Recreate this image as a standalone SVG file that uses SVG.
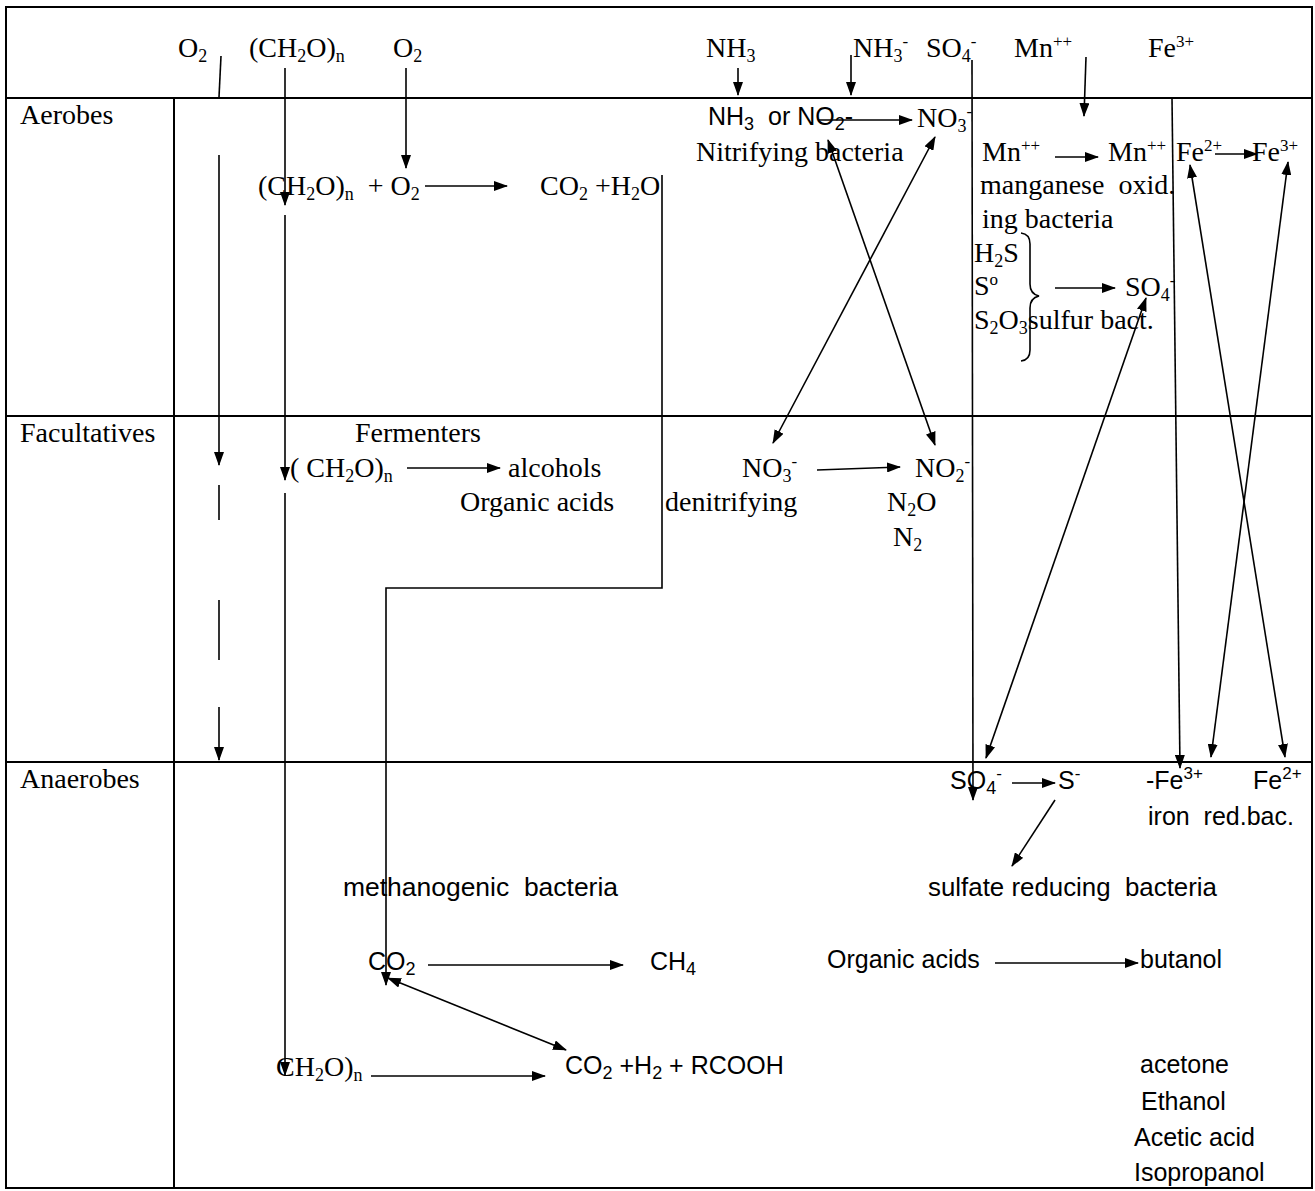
<svg xmlns="http://www.w3.org/2000/svg" width="1315" height="1191" viewBox="0 0 1315 1191">
<style>
.t{font-family:"Liberation Serif","Times New Roman",serif;font-size:28px;fill:#000;white-space:pre}
.s{font-family:"Liberation Sans",Arial,sans-serif;font-size:25px;fill:#000;white-space:pre}
.sub{font-size:18px}
.sup{font-size:17px}
.ln{stroke:#000;stroke-width:1.6;fill:none}
.ar{stroke:#000;stroke-width:1.6;fill:none;marker-end:url(#ah)}
.bi{stroke:#000;stroke-width:1.6;fill:none;marker-end:url(#ah);marker-start:url(#ah)}
.grid{stroke:#000;stroke-width:2;fill:none}
</style>
<defs>
<marker id="ah" markerUnits="userSpaceOnUse" markerWidth="14" markerHeight="10" refX="13" refY="5" orient="auto-start-reverse" viewBox="0 0 14 10">
<path d="M0,0 L14,5 L0,10 z" fill="#000"/>
</marker>
</defs>
<rect width="1315" height="1191" fill="#fff"/>
<g id="grid">
<rect class="grid" x="6" y="7" width="1306" height="1181"/>
<line class="grid" x1="6" y1="98" x2="1312" y2="98"/>
<line class="grid" x1="6" y1="416" x2="1312" y2="416"/>
<line class="grid" x1="6" y1="762" x2="1312" y2="762"/>
<line class="grid" x1="174" y1="98" x2="174" y2="1188"/>
</g>
<g id="row-labels">
<text class="t" x="20" y="124">Aerobes</text>
<text class="t" x="20" y="442">Facultatives</text>
<text class="t" x="20" y="788">Anaerobes</text>
</g>
<g id="inputs">
<text class="t" x="178" y="57">O<tspan class="sub" dy="5">2</tspan></text>
<text class="t" x="249" y="57">(CH<tspan class="sub" dy="5">2</tspan><tspan dy="-5">O)</tspan><tspan class="sub" dy="5">n</tspan></text>
<text class="t" x="393" y="57">O<tspan class="sub" dy="5">2</tspan></text>
<text class="t" x="706" y="57">NH<tspan class="sub" dy="5">3</tspan></text>
<text class="t" x="853" y="57">NH<tspan class="sub" dy="5">3</tspan><tspan class="sup" dy="-15">-</tspan></text>
<text class="t" x="926" y="57">SO<tspan class="sub" dy="5">4</tspan><tspan class="sup" dy="-15">-</tspan></text>
<text class="t" x="1014" y="57">Mn<tspan class="sup" dy="-10">++</tspan></text>
<text class="t" x="1148" y="57">Fe<tspan class="sup" dy="-10">3+</tspan></text>
</g>
<g id="aerobic-respiration">
<text class="t" x="258" y="195">(CH<tspan class="sub" dy="5">2</tspan><tspan dy="-5">O)</tspan><tspan class="sub" dy="5">n</tspan><tspan dy="-5">  + O</tspan><tspan class="sub" dy="5">2</tspan></text>
<text class="t" x="540" y="195">CO<tspan class="sub" dy="5">2</tspan><tspan dy="-5"> +H</tspan><tspan class="sub" dy="5">2</tspan><tspan dy="-5">O</tspan></text>
</g>
<g id="nitrifying">
<text class="s" x="708" y="125">NH<tspan class="sub" dy="5">3</tspan><tspan dy="-5">  or NO</tspan><tspan class="sub" dy="5">2</tspan><tspan dy="-5">-</tspan></text>
<text class="t" x="917" y="127">NO<tspan class="sub" dy="5">3</tspan><tspan class="sup" dy="-15">-</tspan></text>
<text class="t" x="696" y="161">Nitrifying bacteria</text>
</g>
<g id="manganese">
<text class="t" x="982" y="161">Mn<tspan class="sup" dy="-10">++</tspan></text>
<text class="t" x="1108" y="161">Mn<tspan class="sup" dy="-10">++</tspan></text>
<text class="t" x="980" y="194">manganese  oxid.</text>
<text class="t" x="982" y="228">ing bacteria</text>
</g>
<g id="iron-oxid">
<text class="t" x="1176" y="161">Fe<tspan class="sup" dy="-10">2+</tspan></text>
<text class="t" x="1252" y="161">Fe<tspan class="sup" dy="-10">3+</tspan></text>
</g>
<g id="sulfur">
<text class="t" x="974" y="262">H<tspan class="sub" dy="5">2</tspan><tspan dy="-5">S</tspan></text>
<text class="t" x="974" y="295">S<tspan class="sup" dy="-10">o</tspan></text>
<text class="t" x="974" y="329">S<tspan class="sub" dy="5">2</tspan><tspan dy="-5">O</tspan><tspan class="sub" dy="5">3</tspan><tspan dy="-5">sulfur bact.</tspan></text>
<path class="ln" d="M1021,233 Q1030,234 1030,244 L1030,284 Q1030,294 1039,296 Q1030,298 1030,308 L1030,350 Q1030,360 1021,361"/>
<text class="t" x="1125" y="296">SO<tspan class="sub" dy="5">4</tspan><tspan class="sup" dy="-15">-</tspan></text>
</g>
<g id="fermenters">
<text class="t" x="355" y="442">Fermenters</text>
<text class="t" x="290" y="477">( CH<tspan class="sub" dy="5">2</tspan><tspan dy="-5">O)</tspan><tspan class="sub" dy="5">n</tspan></text>
<text class="t" x="508" y="477">alcohols</text>
<text class="t" x="460" y="511">Organic acids</text>
</g>
<g id="denitrifying">
<text class="t" x="742" y="477">NO<tspan class="sub" dy="5">3</tspan><tspan class="sup" dy="-15">-</tspan></text>
<text class="t" x="915" y="477">NO<tspan class="sub" dy="5">2</tspan><tspan class="sup" dy="-15">-</tspan></text>
<text class="t" x="665" y="511">denitrifying</text>
<text class="t" x="887" y="511">N<tspan class="sub" dy="5">2</tspan><tspan dy="-5">O</tspan></text>
<text class="t" x="893" y="546">N<tspan class="sub" dy="5">2</tspan></text>
</g>
<g id="sulfate-reducing">
<text class="s" x="950" y="789">SO<tspan class="sub" dy="5">4</tspan><tspan class="sup" dy="-15">-</tspan></text>
<text class="s" x="1058" y="789">S<tspan class="sup" dy="-10">-</tspan></text>
<text class="s" x="928" y="896" textLength="289" lengthAdjust="spacingAndGlyphs">sulfate reducing  bacteria</text>
</g>
<g id="iron-reducing">
<text class="s" x="1146" y="789">-Fe<tspan class="sup" dy="-10">3+</tspan></text>
<text class="s" x="1253" y="789">Fe<tspan class="sup" dy="-10">2+</tspan></text>
<text class="s" x="1148" y="825">iron  red.bac.</text>
</g>
<g id="methanogenic">
<text class="s" x="343" y="896" textLength="275" lengthAdjust="spacingAndGlyphs">methanogenic  bacteria</text>
<text class="s" x="368" y="970">CO<tspan class="sub" dy="5">2</tspan></text>
<text class="s" x="650" y="970">CH<tspan class="sub" dy="5">4</tspan></text>
<text class="t" x="276" y="1076">CH<tspan class="sub" dy="5">2</tspan><tspan dy="-5">O)</tspan><tspan class="sub" dy="5">n</tspan></text>
<text class="s" x="565" y="1074">CO<tspan class="sub" dy="5">2</tspan><tspan dy="-5"> +H</tspan><tspan class="sub" dy="5">2</tspan><tspan dy="-5"> + RCOOH</tspan></text>
</g>
<g id="solventogenic">
<text class="s" x="827" y="968">Organic acids</text>
<text class="s" x="1140" y="968">butanol</text>
<text class="s" x="1140" y="1073">acetone</text>
<text class="s" x="1141" y="1110">Ethanol</text>
<text class="s" x="1134" y="1146">Acetic acid</text>
<text class="s" x="1134" y="1181">Isopropanol</text>
</g>
<g id="connectors">
<line class="ln" x1="221" y1="56" x2="219" y2="97"/>
<line class="ar" x1="219" y1="155" x2="219" y2="465"/>
<line class="ln" x1="219" y1="485" x2="219" y2="520"/>
<line class="ln" x1="219" y1="600" x2="219" y2="660"/>
<line class="ar" x1="219" y1="707" x2="219" y2="760"/>
<line class="ar" x1="285" y1="68" x2="285" y2="205"/>
<line class="ar" x1="285" y1="215" x2="285" y2="480"/>
<line class="ar" x1="285" y1="493" x2="285" y2="1075"/>
<line class="ar" x1="406" y1="68" x2="406" y2="168"/>
<line class="ar" x1="425" y1="186" x2="507" y2="186"/>
<polyline class="ar" points="662,175 662,588 386,588 386,985"/>
<line class="ar" x1="738" y1="68" x2="738" y2="95"/>
<line class="ar" x1="851" y1="55" x2="851" y2="95"/>
<line class="ar" x1="818" y1="120" x2="912" y2="120"/>
<line class="ar" x1="972" y1="60" x2="973" y2="800"/>
<line class="ar" x1="1086" y1="57" x2="1084" y2="116"/>
<line class="ar" x1="1055" y1="157" x2="1098" y2="157"/>
<line class="ar" x1="1215" y1="154" x2="1257" y2="154"/>
<line class="ar" x1="1172" y1="98" x2="1180" y2="768"/>
<line class="bi" x1="828" y1="140" x2="935" y2="445"/>
<line class="bi" x1="935" y1="137" x2="773" y2="443"/>
<line class="ar" x1="1055" y1="288" x2="1115" y2="288"/>
<line class="bi" x1="1146" y1="298" x2="986" y2="758"/>
<line class="bi" x1="1190" y1="165" x2="1285" y2="757"/>
<line class="bi" x1="1288" y1="162" x2="1211" y2="757"/>
<line class="ar" x1="407" y1="468" x2="500" y2="468"/>
<line class="ar" x1="817" y1="470" x2="900" y2="467"/>
<line class="ar" x1="1012" y1="783" x2="1055" y2="783"/>
<line class="ar" x1="1055" y1="800" x2="1012" y2="866"/>
<line class="ar" x1="428" y1="965" x2="623" y2="965"/>
<line class="bi" x1="388" y1="978" x2="566" y2="1050"/>
<line class="ar" x1="371" y1="1076" x2="545" y2="1076"/>
<line class="ar" x1="995" y1="963" x2="1138" y2="963"/>
</g>
</svg>
